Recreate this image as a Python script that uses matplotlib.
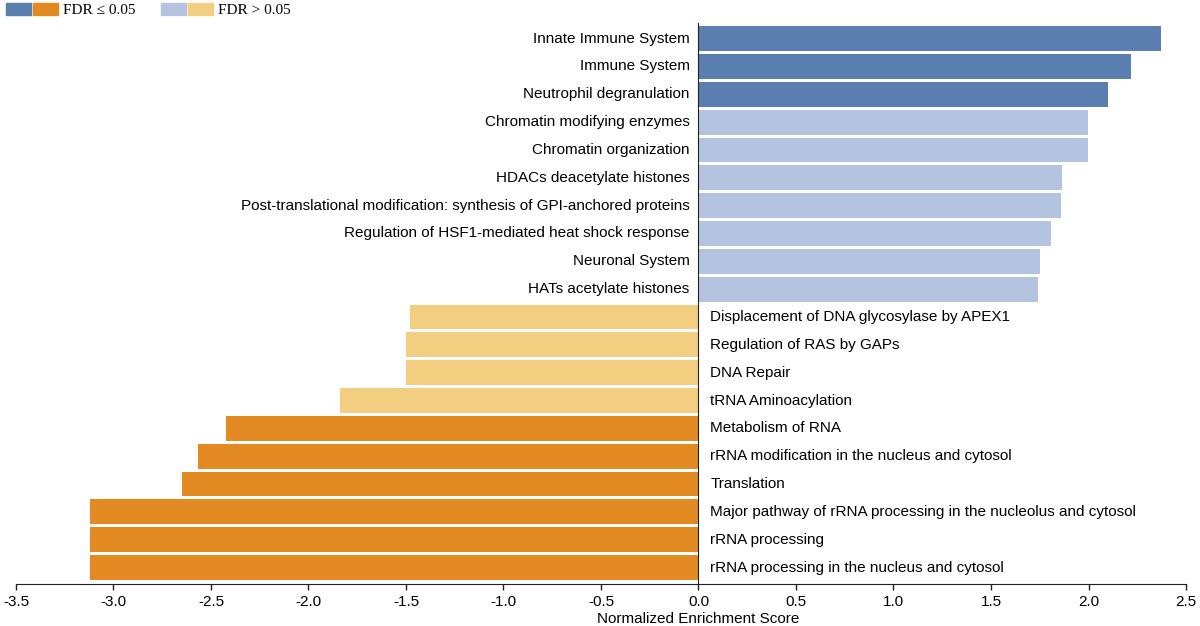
import matplotlib
matplotlib.use("Agg")
import matplotlib.pyplot as plt
from matplotlib.patches import Patch
from matplotlib.legend_handler import HandlerTuple
import numpy as np

# pathway names, top to bottom
pathways = ["Innate Immune System", "Immune System", "Neutrophil degranulation",
            "Chromatin modifying enzymes", "Chromatin organization",
            "HDACs deacetylate histones",
            "Post-translational modification: synthesis of GPI-anchored proteins",
            "Regulation of HSF1-mediated heat shock response", "Neuronal System",
            "HATs acetylate histones", "Displacement of DNA glycosylase by APEX1",
            "Regulation of RAS by GAPs", "DNA Repair", "tRNA Aminoacylation",
            "Metabolism of RNA", "rRNA modification in the nucleus and cytosol",
            "Translation",
            "Major pathway of rRNA processing in the nucleolus and cytosol",
            "rRNA processing", "rRNA processing in the nucleus and cytosol"]
nes = [2.37, 2.22, 2.10, 1.995, 1.995, 1.866, 1.86, 1.81, 1.75, 1.74,
       -1.48, -1.50, -1.50, -1.84, -2.425, -2.567, -2.647, -3.12, -3.12, -3.12]
significant = [True, True, True, False, False, False, False, False, False, False,
               False, False, False, False, True, True, True, True, True, True]

BLUE, LIGHT_BLUE = "#5b7eb0", "#b4c4e0"
ORANGE, LIGHT_ORANGE = "#e48a22", "#f2ce80"

plt.rcParams["font.family"] = ["Liberation Sans", "DejaVu Sans"]

fig = plt.figure(figsize=(12, 6.26), dpi=100)
ax = fig.add_axes([16/1200, 0.0671, 1170/1200, 0.8966])

def bar_color(v, sig):
    if v >= 0:
        return BLUE if sig else LIGHT_BLUE
    return ORANGE if sig else LIGHT_ORANGE

ypos = np.arange(len(pathways))
colors = [bar_color(v, s) for v, s in zip(nes, significant)]
ax.barh(ypos, nes, height=0.89, color=colors)

for y, v, name in zip(ypos, nes, pathways):
    if v >= 0:
        ax.text(-0.045, y, name, ha="right", va="center", fontsize=11)
    else:
        ax.text(0.06, y, name, ha="left", va="center", fontsize=11)

ax.set_xlim(-3.5, 2.5)
ax.set_ylim(19.59, -0.57)
ax.set_xticks(np.arange(-3.5, 2.51, 0.5))
ax.set_xticklabels(["%.1f" % t for t in np.arange(-3.5, 2.51, 0.5)])
ax.tick_params(axis="x", length=4, width=1, labelsize=11, pad=4, color="#222222")
ax.set_yticks([])
ax.spines["top"].set_visible(False)
ax.spines["right"].set_visible(False)
ax.spines["left"].set_position(("data", 0))
ax.spines["left"].set_color("#222222")
ax.spines["bottom"].set_color("#222222")
ax.set_xlabel("Normalized Enrichment Score", fontsize=11, labelpad=0)
ax.xaxis.set_label_coords(3.5/6, -0.05)

handles = [(Patch(color=BLUE), Patch(color=ORANGE)),
           (Patch(color=LIGHT_BLUE), Patch(color=LIGHT_ORANGE))]
fig.legend(handles, ["FDR \u2264 0.05", "FDR > 0.05"], ncol=2, loc="upper left",
           bbox_to_anchor=(0.0, 1.005), frameon=False,
           handler_map={tuple: HandlerTuple(ndivide=None, pad=0.15)},
           handlelength=3.4, handleheight=0.85, handletextpad=0.3,
           columnspacing=1.7, borderaxespad=0.2, borderpad=0.2,
           prop={"family": ["Liberation Serif", "DejaVu Serif"], "size": 11})

fig.savefig("out.png", dpi=100)
